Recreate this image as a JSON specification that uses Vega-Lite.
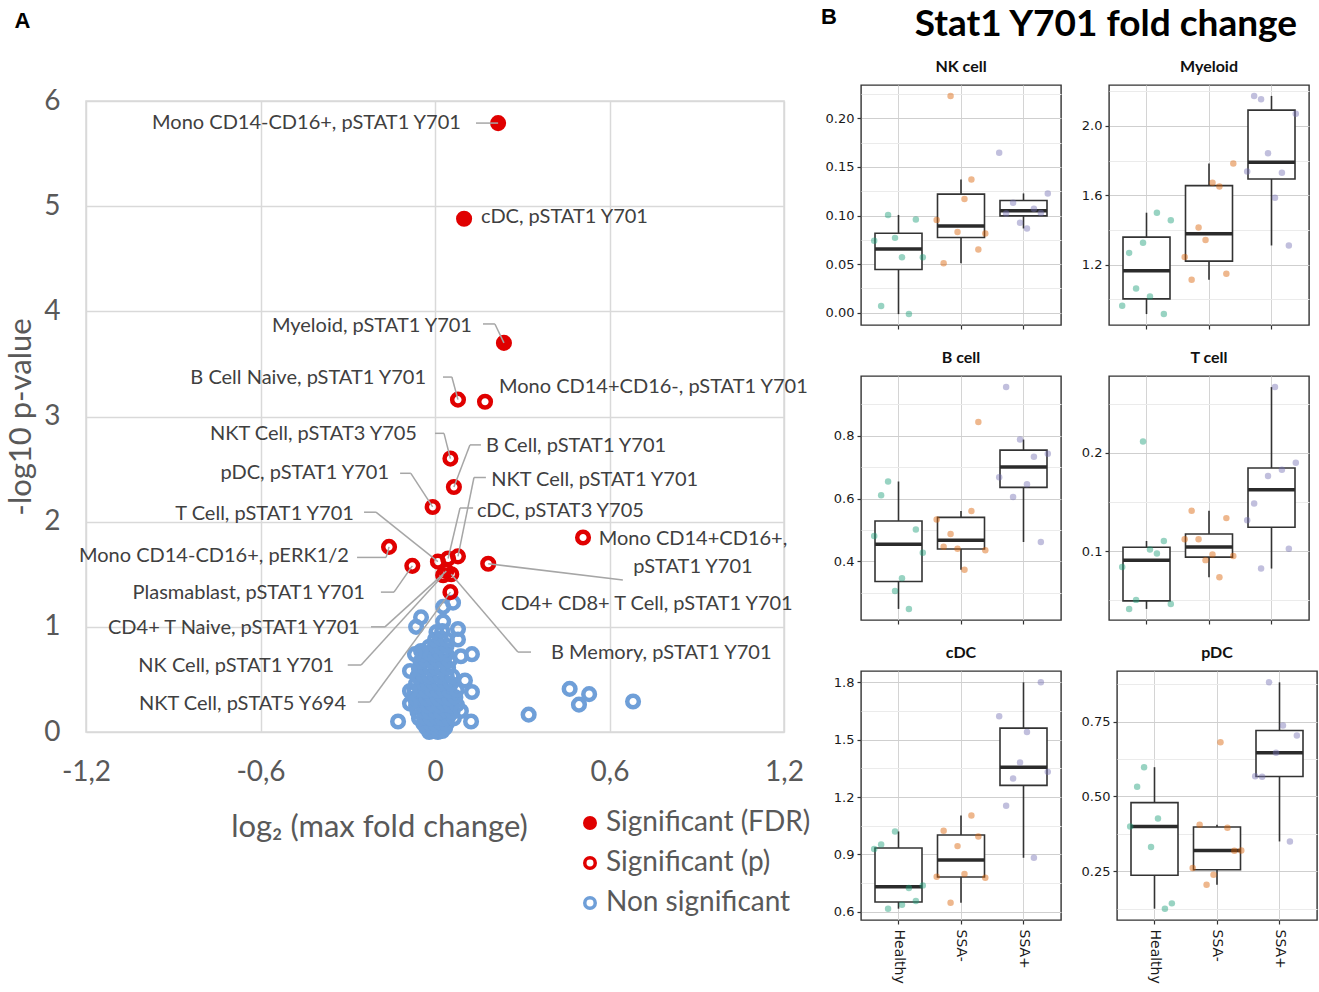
{
"$schema":"https://vega.github.io/schema/vega-lite/v6.json",
"background":"white",
"padding":{"left":5,"top":5,"right":2,"bottom":2},
"datasets":{
"volcano":[
{"x":-0.02,"y":0,"s":"Non significant"},{"x":-0.005,"y":0.01,"s":"Non significant"},{"x":0.01,"y":0,"s":"Non significant"},{"x":0.025,"y":0.01,"s":"Non significant"},
{"x":-0.03,"y":0.04,"s":"Non significant"},{"x":-0.01,"y":0.05,"s":"Non significant"},{"x":0.005,"y":0.04,"s":"Non significant"},{"x":0.02,"y":0.05,"s":"Non significant"},{"x":0.035,"y":0.04,"s":"Non significant"},
{"x":-0.04,"y":0.08,"s":"Non significant"},{"x":-0.02,"y":0.09,"s":"Non significant"},{"x":0,"y":0.08,"s":"Non significant"},{"x":0.02,"y":0.09,"s":"Non significant"},{"x":0.04,"y":0.08,"s":"Non significant"},
{"x":-0.055,"y":0.13,"s":"Non significant"},{"x":-0.035,"y":0.14,"s":"Non significant"},{"x":-0.015,"y":0.13,"s":"Non significant"},{"x":0.005,"y":0.14,"s":"Non significant"},{"x":0.025,"y":0.13,"s":"Non significant"},{"x":0.045,"y":0.14,"s":"Non significant"},{"x":0.065,"y":0.13,"s":"Non significant"},
{"x":-0.06,"y":0.19,"s":"Non significant"},{"x":-0.04,"y":0.2,"s":"Non significant"},{"x":-0.02,"y":0.19,"s":"Non significant"},{"x":0,"y":0.2,"s":"Non significant"},{"x":0.02,"y":0.19,"s":"Non significant"},{"x":0.04,"y":0.2,"s":"Non significant"},{"x":0.06,"y":0.19,"s":"Non significant"},
{"x":-0.065,"y":0.25,"s":"Non significant"},{"x":-0.045,"y":0.26,"s":"Non significant"},{"x":-0.025,"y":0.25,"s":"Non significant"},{"x":-0.005,"y":0.26,"s":"Non significant"},{"x":0.015,"y":0.25,"s":"Non significant"},{"x":0.035,"y":0.26,"s":"Non significant"},{"x":0.055,"y":0.25,"s":"Non significant"},{"x":0.075,"y":0.26,"s":"Non significant"},
{"x":-0.07,"y":0.32,"s":"Non significant"},{"x":-0.05,"y":0.33,"s":"Non significant"},{"x":-0.03,"y":0.32,"s":"Non significant"},{"x":-0.01,"y":0.33,"s":"Non significant"},{"x":0.01,"y":0.32,"s":"Non significant"},{"x":0.03,"y":0.33,"s":"Non significant"},{"x":0.05,"y":0.32,"s":"Non significant"},{"x":0.07,"y":0.33,"s":"Non significant"},
{"x":-0.07,"y":0.39,"s":"Non significant"},{"x":-0.05,"y":0.4,"s":"Non significant"},{"x":-0.03,"y":0.39,"s":"Non significant"},{"x":-0.01,"y":0.4,"s":"Non significant"},{"x":0.01,"y":0.39,"s":"Non significant"},{"x":0.03,"y":0.4,"s":"Non significant"},{"x":0.05,"y":0.39,"s":"Non significant"},{"x":0.075,"y":0.4,"s":"Non significant"},
{"x":-0.065,"y":0.46,"s":"Non significant"},{"x":-0.045,"y":0.47,"s":"Non significant"},{"x":-0.025,"y":0.46,"s":"Non significant"},{"x":-0.005,"y":0.47,"s":"Non significant"},{"x":0.015,"y":0.46,"s":"Non significant"},{"x":0.035,"y":0.47,"s":"Non significant"},{"x":0.055,"y":0.46,"s":"Non significant"},
{"x":-0.06,"y":0.53,"s":"Non significant"},{"x":-0.04,"y":0.54,"s":"Non significant"},{"x":-0.02,"y":0.53,"s":"Non significant"},{"x":0,"y":0.54,"s":"Non significant"},{"x":0.02,"y":0.53,"s":"Non significant"},{"x":0.04,"y":0.54,"s":"Non significant"},{"x":0.06,"y":0.53,"s":"Non significant"},
{"x":-0.055,"y":0.6,"s":"Non significant"},{"x":-0.035,"y":0.61,"s":"Non significant"},{"x":-0.015,"y":0.6,"s":"Non significant"},{"x":0.005,"y":0.61,"s":"Non significant"},{"x":0.025,"y":0.6,"s":"Non significant"},{"x":0.045,"y":0.61,"s":"Non significant"},
{"x":-0.05,"y":0.67,"s":"Non significant"},{"x":-0.03,"y":0.68,"s":"Non significant"},{"x":-0.01,"y":0.67,"s":"Non significant"},{"x":0.01,"y":0.68,"s":"Non significant"},{"x":0.03,"y":0.67,"s":"Non significant"},{"x":0.05,"y":0.68,"s":"Non significant"},
{"x":-0.04,"y":0.74,"s":"Non significant"},{"x":-0.02,"y":0.75,"s":"Non significant"},{"x":0,"y":0.74,"s":"Non significant"},{"x":0.02,"y":0.75,"s":"Non significant"},{"x":0.04,"y":0.74,"s":"Non significant"},
{"x":-0.02,"y":0.81,"s":"Non significant"},{"x":0,"y":0.82,"s":"Non significant"},{"x":0.02,"y":0.81,"s":"Non significant"},{"x":0.04,"y":0.82,"s":"Non significant"},
{"x":0,"y":0.88,"s":"Non significant"},{"x":0.02,"y":0.89,"s":"Non significant"},{"x":0.04,"y":0.88,"s":"Non significant"},
{"x":0.005,"y":0.95,"s":"Non significant"},{"x":0.025,"y":0.96,"s":"Non significant"},
{"x":0.062,"y":1.23,"s":"Non significant"},{"x":0.028,"y":1.19,"s":"Non significant"},{"x":-0.048,"y":1.09,"s":"Non significant"},{"x":-0.065,"y":1.0,"s":"Non significant"},{"x":0.028,"y":1.05,"s":"Non significant"},{"x":0.079,"y":0.98,"s":"Non significant"},{"x":0.079,"y":0.88,"s":"Non significant"},{"x":0.089,"y":0.72,"s":"Non significant"},{"x":0.127,"y":0.74,"s":"Non significant"},{"x":0.103,"y":0.49,"s":"Non significant"},{"x":0.127,"y":0.38,"s":"Non significant"},{"x":0.124,"y":0.1,"s":"Non significant"},{"x":-0.127,"y":0.1,"s":"Non significant"},{"x":-0.086,"y":0.58,"s":"Non significant"},{"x":-0.086,"y":0.39,"s":"Non significant"},{"x":-0.086,"y":0.27,"s":"Non significant"},{"x":-0.048,"y":0.77,"s":"Non significant"},{"x":-0.069,"y":0.74,"s":"Non significant"},{"x":0.089,"y":0.2,"s":"Non significant"},{"x":0.322,"y":0.165,"s":"Non significant"},{"x":0.463,"y":0.41,"s":"Non significant"},{"x":0.53,"y":0.36,"s":"Non significant"},{"x":0.495,"y":0.26,"s":"Non significant"},{"x":0.681,"y":0.29,"s":"Non significant"},
{"x":0.079,"y":3.16,"s":"Significant (p)"},{"x":0.172,"y":3.14,"s":"Significant (p)"},{"x":0.053,"y":2.6,"s":"Significant (p)"},{"x":0.065,"y":2.33,"s":"Significant (p)"},{"x":-0.008,"y":2.14,"s":"Significant (p)"},{"x":0.509,"y":1.85,"s":"Significant (p)"},{"x":-0.158,"y":1.76,"s":"Significant (p)"},{"x":-0.078,"y":1.58,"s":"Significant (p)"},{"x":0.01,"y":1.62,"s":"Significant (p)"},{"x":0.045,"y":1.65,"s":"Significant (p)"},{"x":0.079,"y":1.67,"s":"Significant (p)"},{"x":0.183,"y":1.6,"s":"Significant (p)"},{"x":0.056,"y":1.5,"s":"Significant (p)"},{"x":0.039,"y":1.53,"s":"Significant (p)"},{"x":0.028,"y":1.49,"s":"Significant (p)"},{"x":0.053,"y":1.33,"s":"Significant (p)"},
{"x":0.217,"y":5.79,"s":"Significant (FDR)"},{"x":0.1,"y":4.88,"s":"Significant (FDR)"},{"x":0.237,"y":3.7,"s":"Significant (FDR)"}
],
"labels":[
{"t":"Mono CD14-CD16+, pSTAT1 Y701","x":0.089,"y":5.79,"side":"end"},
{"t":"Myeloid, pSTAT1 Y701","x":0.127,"y":3.86,"side":"end"},
{"t":"B Cell Naive, pSTAT1 Y701","x":-0.031,"y":3.365,"side":"end"},
{"t":"NKT Cell, pSTAT3 Y705","x":-0.062,"y":2.83,"side":"end"},
{"t":"pDC, pSTAT1 Y701","x":-0.158,"y":2.46,"side":"end"},
{"t":"T Cell, pSTAT1 Y701","x":-0.279,"y":2.07,"side":"end"},
{"t":"Mono CD14-CD16+, pERK1/2","x":-0.296,"y":1.673,"side":"end"},
{"t":"Plasmablast, pSTAT1 Y701","x":-0.241,"y":1.32,"side":"end"},
{"t":"CD4+ T Naive, pSTAT1 Y701","x":-0.258,"y":0.99,"side":"end"},
{"t":"NK Cell, pSTAT1 Y701","x":-0.347,"y":0.627,"side":"end"},
{"t":"NKT Cell, pSTAT5 Y694","x":-0.306,"y":0.266,"side":"end"},
{"t":"cDC, pSTAT1 Y701","x":0.158,"y":4.9,"side":"start"},
{"t":"Mono CD14+CD16-, pSTAT1 Y701","x":0.22,"y":3.28,"side":"start"},
{"t":"B Cell, pSTAT1 Y701","x":0.175,"y":2.72,"side":"start"},
{"t":"NKT Cell, pSTAT1 Y701","x":0.193,"y":2.4,"side":"start"},
{"t":"cDC, pSTAT3 Y705","x":0.144,"y":2.1,"side":"start"},
{"t":"CD4+ CD8+ T Cell, pSTAT1 Y701","x":0.227,"y":1.217,"side":"start"},
{"t":"B Memory, pSTAT1 Y701","x":0.399,"y":0.75,"side":"start"},
{"t":"Mono CD14+CD16+,","x":0.887,"y":1.835,"side":"middle"},
{"t":"pSTAT1 Y701","x":0.887,"y":1.568,"side":"middle"}
],
"tags":[
{"t":"B","x":1.327,"y":6.8}
],
"leaders":[
{"x":0.141,"y":5.79,"x2":0.217,"y2":5.79},
{"x":0.165,"y":3.88,"x2":0.206,"y2":3.88},{"x":0.206,"y":3.88,"x2":0.237,"y2":3.7},
{"x":0.0275,"y":3.375,"x2":0.058,"y2":3.375},{"x":0.058,"y":3.375,"x2":0.079,"y2":3.16},
{"x":0.0,"y":2.84,"x2":0.031,"y2":2.84},{"x":0.031,"y":2.84,"x2":0.053,"y2":2.6},
{"x":0.158,"y":2.73,"x2":0.12,"y2":2.73},{"x":0.12,"y":2.73,"x2":0.065,"y2":2.33},
{"x":-0.12,"y":2.46,"x2":-0.083,"y2":2.46},{"x":-0.083,"y":2.46,"x2":-0.008,"y2":2.14},
{"x":0.175,"y":2.42,"x2":0.134,"y2":2.42},{"x":0.134,"y":2.42,"x2":0.079,"y2":1.67},
{"x":-0.244,"y":2.09,"x2":-0.203,"y2":2.09},{"x":-0.203,"y":2.09,"x2":0.01,"y2":1.62},
{"x":0.131,"y":2.13,"x2":0.086,"y2":2.13},{"x":0.086,"y":2.13,"x2":0.045,"y2":1.65},
{"x":-0.268,"y":1.66,"x2":-0.168,"y2":1.66},{"x":-0.168,"y":1.66,"x2":-0.158,"y2":1.76},
{"x":-0.186,"y":1.33,"x2":-0.141,"y2":1.33},{"x":-0.141,"y":1.33,"x2":-0.078,"y2":1.58},
{"x":0.183,"y":1.6,"x2":0.646,"y2":1.445},
{"x":-0.22,"y":1.0,"x2":-0.172,"y2":1.0},{"x":-0.172,"y":1.0,"x2":0.039,"y2":1.53},
{"x":0.33,"y":0.76,"x2":0.285,"y2":0.76},{"x":0.285,"y":0.76,"x2":0.056,"y2":1.5},
{"x":-0.3,"y":0.637,"x2":-0.254,"y2":0.637},{"x":-0.254,"y":0.637,"x2":0.028,"y2":1.49},
{"x":-0.265,"y":0.285,"x2":-0.224,"y2":0.285},{"x":-0.224,"y":0.285,"x2":0.053,"y2":1.33}
],
"box":[
{"p":"NK cell","g":"Healthy","v":0.1006,"r":3},{"p":"NK cell","g":"Healthy","v":0.096,"r":7},{"p":"NK cell","g":"Healthy","v":0.077,"r":4},{"p":"NK cell","g":"Healthy","v":0.074,"r":1},{"p":"NK cell","g":"Healthy","v":0.057,"r":5},{"p":"NK cell","g":"Healthy","v":0.057,"r":8},{"p":"NK cell","g":"Healthy","v":0.007,"r":2},{"p":"NK cell","g":"Healthy","v":-0.0014,"r":6},
{"p":"NK cell","g":"SSA-","v":0.223,"r":3},{"p":"NK cell","g":"SSA-","v":0.137,"r":6},{"p":"NK cell","g":"SSA-","v":0.117,"r":5},{"p":"NK cell","g":"SSA-","v":0.0955,"r":1},{"p":"NK cell","g":"SSA-","v":0.083,"r":4},{"p":"NK cell","g":"SSA-","v":0.0816,"r":8},{"p":"NK cell","g":"SSA-","v":0.065,"r":7},{"p":"NK cell","g":"SSA-","v":0.051,"r":2},
{"p":"NK cell","g":"SSA+","v":0.1646,"r":1},{"p":"NK cell","g":"SSA+","v":0.1227,"r":8},{"p":"NK cell","g":"SSA+","v":0.113,"r":3},{"p":"NK cell","g":"SSA+","v":0.107,"r":6},{"p":"NK cell","g":"SSA+","v":0.1027,"r":7},{"p":"NK cell","g":"SSA+","v":0.102,"r":2},{"p":"NK cell","g":"SSA+","v":0.0925,"r":4},{"p":"NK cell","g":"SSA+","v":0.0867,"r":5},
{"p":"Myeloid","g":"Healthy","v":1.499,"r":6},{"p":"Myeloid","g":"Healthy","v":1.455,"r":8},{"p":"Myeloid","g":"Healthy","v":1.326,"r":4},{"p":"Myeloid","g":"Healthy","v":1.267,"r":2},{"p":"Myeloid","g":"Healthy","v":1.061,"r":3},{"p":"Myeloid","g":"Healthy","v":1.015,"r":5},{"p":"Myeloid","g":"Healthy","v":0.962,"r":1},{"p":"Myeloid","g":"Healthy","v":0.914,"r":7},
{"p":"Myeloid","g":"SSA-","v":1.783,"r":8},{"p":"Myeloid","g":"SSA-","v":1.672,"r":5},{"p":"Myeloid","g":"SSA-","v":1.65,"r":6},{"p":"Myeloid","g":"SSA-","v":1.413,"r":3},{"p":"Myeloid","g":"SSA-","v":1.341,"r":4},{"p":"Myeloid","g":"SSA-","v":1.244,"r":1},{"p":"Myeloid","g":"SSA-","v":1.147,"r":7},{"p":"Myeloid","g":"SSA-","v":1.112,"r":2},
{"p":"Myeloid","g":"SSA+","v":2.173,"r":2},{"p":"Myeloid","g":"SSA+","v":2.154,"r":3},{"p":"Myeloid","g":"SSA+","v":2.07,"r":8},{"p":"Myeloid","g":"SSA+","v":1.842,"r":4},{"p":"Myeloid","g":"SSA+","v":1.737,"r":1},{"p":"Myeloid","g":"SSA+","v":1.73,"r":6},{"p":"Myeloid","g":"SSA+","v":1.585,"r":5},{"p":"Myeloid","g":"SSA+","v":1.31,"r":7},
{"p":"B cell","g":"Healthy","v":0.6545,"r":3},{"p":"B cell","g":"Healthy","v":0.611,"r":2},{"p":"B cell","g":"Healthy","v":0.5016,"r":7},{"p":"B cell","g":"Healthy","v":0.481,"r":1},{"p":"B cell","g":"Healthy","v":0.428,"r":8},{"p":"B cell","g":"Healthy","v":0.3465,"r":5},{"p":"B cell","g":"Healthy","v":0.306,"r":4},{"p":"B cell","g":"Healthy","v":0.249,"r":6},
{"p":"B cell","g":"SSA-","v":0.844,"r":7},{"p":"B cell","g":"SSA-","v":0.5604,"r":6},{"p":"B cell","g":"SSA-","v":0.5337,"r":1},{"p":"B cell","g":"SSA-","v":0.4877,"r":3},{"p":"B cell","g":"SSA-","v":0.447,"r":2},{"p":"B cell","g":"SSA-","v":0.4406,"r":4},{"p":"B cell","g":"SSA-","v":0.436,"r":8},{"p":"B cell","g":"SSA-","v":0.374,"r":5},
{"p":"B cell","g":"SSA+","v":0.955,"r":2},{"p":"B cell","g":"SSA+","v":0.788,"r":4},{"p":"B cell","g":"SSA+","v":0.743,"r":8},{"p":"B cell","g":"SSA+","v":0.733,"r":6},{"p":"B cell","g":"SSA+","v":0.668,"r":1},{"p":"B cell","g":"SSA+","v":0.646,"r":5},{"p":"B cell","g":"SSA+","v":0.605,"r":3},{"p":"B cell","g":"SSA+","v":0.462,"r":7},
{"p":"T cell","g":"Healthy","v":0.2116,"r":4},{"p":"T cell","g":"Healthy","v":0.1103,"r":7},{"p":"T cell","g":"Healthy","v":0.1017,"r":5},{"p":"T cell","g":"Healthy","v":0.0976,"r":6},{"p":"T cell","g":"Healthy","v":0.0839,"r":1},{"p":"T cell","g":"Healthy","v":0.0503,"r":3},{"p":"T cell","g":"Healthy","v":0.0462,"r":8},{"p":"T cell","g":"Healthy","v":0.0411,"r":2},
{"p":"T cell","g":"SSA-","v":0.1411,"r":2},{"p":"T cell","g":"SSA-","v":0.1336,"r":7},{"p":"T cell","g":"SSA-","v":0.112,"r":1},{"p":"T cell","g":"SSA-","v":0.112,"r":3},{"p":"T cell","g":"SSA-","v":0.0966,"r":5},{"p":"T cell","g":"SSA-","v":0.0949,"r":8},{"p":"T cell","g":"SSA-","v":0.0908,"r":4},{"p":"T cell","g":"SSA-","v":0.0733,"r":6},
{"p":"T cell","g":"SSA+","v":0.2671,"r":5},{"p":"T cell","g":"SSA+","v":0.19,"r":8},{"p":"T cell","g":"SSA+","v":0.1829,"r":6},{"p":"T cell","g":"SSA+","v":0.1764,"r":4},{"p":"T cell","g":"SSA+","v":0.1486,"r":2},{"p":"T cell","g":"SSA+","v":0.1315,"r":1},{"p":"T cell","g":"SSA+","v":0.1024,"r":7},{"p":"T cell","g":"SSA+","v":0.0822,"r":3},
{"p":"cDC","g":"Healthy","v":1.0197,"r":4},{"p":"cDC","g":"Healthy","v":0.952,"r":2},{"p":"cDC","g":"Healthy","v":0.9274,"r":1},{"p":"cDC","g":"Healthy","v":0.7376,"r":8},{"p":"cDC","g":"Healthy","v":0.7237,"r":6},{"p":"cDC","g":"Healthy","v":0.6557,"r":7},{"p":"cDC","g":"Healthy","v":0.6366,"r":5},{"p":"cDC","g":"Healthy","v":0.6157,"r":3},
{"p":"cDC","g":"SSA-","v":1.1033,"r":6},{"p":"cDC","g":"SSA-","v":1.0232,"r":2},{"p":"cDC","g":"SSA-","v":0.9936,"r":7},{"p":"cDC","g":"SSA-","v":0.943,"r":4},{"p":"cDC","g":"SSA-","v":0.7968,"r":5},{"p":"cDC","g":"SSA-","v":0.7829,"r":1},{"p":"cDC","g":"SSA-","v":0.7776,"r":8},{"p":"cDC","g":"SSA-","v":0.647,"r":3},
{"p":"cDC","g":"SSA+","v":1.8,"r":7},{"p":"cDC","g":"SSA+","v":1.622,"r":1},{"p":"cDC","g":"SSA+","v":1.54,"r":5},{"p":"cDC","g":"SSA+","v":1.38,"r":4},{"p":"cDC","g":"SSA+","v":1.3315,"r":8},{"p":"cDC","g":"SSA+","v":1.2966,"r":3},{"p":"cDC","g":"SSA+","v":1.1538,"r":2},{"p":"cDC","g":"SSA+","v":0.882,"r":6},
{"p":"pDC","g":"Healthy","v":0.5978,"r":3},{"p":"pDC","g":"Healthy","v":0.5322,"r":2},{"p":"pDC","g":"Healthy","v":0.4267,"r":5},{"p":"pDC","g":"Healthy","v":0.4,"r":1},{"p":"pDC","g":"Healthy","v":0.3311,"r":4},{"p":"pDC","g":"Healthy","v":0.1433,"r":7},{"p":"pDC","g":"Healthy","v":0.1256,"r":6},
{"p":"pDC","g":"SSA-","v":0.681,"r":5},{"p":"pDC","g":"SSA-","v":0.4056,"r":2},{"p":"pDC","g":"SSA-","v":0.3956,"r":6},{"p":"pDC","g":"SSA-","v":0.32,"r":8},{"p":"pDC","g":"SSA-","v":0.319,"r":7},{"p":"pDC","g":"SSA-","v":0.261,"r":1},{"p":"pDC","g":"SSA-","v":0.2389,"r":4},{"p":"pDC","g":"SSA-","v":0.2056,"r":3},
{"p":"pDC","g":"SSA+","v":0.881,"r":3},{"p":"pDC","g":"SSA+","v":0.7367,"r":5},{"p":"pDC","g":"SSA+","v":0.7033,"r":7},{"p":"pDC","g":"SSA+","v":0.6456,"r":4},{"p":"pDC","g":"SSA+","v":0.5678,"r":1},{"p":"pDC","g":"SSA+","v":0.5656,"r":2},{"p":"pDC","g":"SSA+","v":0.35,"r":6}
]
},
"spacing":-14,
"hconcat":[
{"spacing":-41,"vconcat":[
{"width":1,"height":1,"view":{"stroke":null},"data":{"values":[{}]},"mark":{"type":"rule","opacity":0},"encoding":{},
"title":{"text":"A","anchor":"start","font":"Liberation Sans","fontSize":22,"fontWeight":"bold","color":"#000000","offset":12,"dx":-71}},
{
"width":698,"height":631,
"view":{"stroke":"#d9d9d9","strokeWidth":1.5},
"layer":[
{"data":{"name":"volcano"},
"mark":{"type":"point","filled":false,"strokeWidth":4.5,"size":135,"opacity":1},
"encoding":{
"x":{"field":"x","type":"quantitative","scale":{"domain":[-1.2,1.2],"nice":false,"zero":false},
"axis":{"values":[-1.2,-0.6,0,0.6,1.2],"labelExpr":"datum.value==0?'0':replace(replace(format(datum.value,'.1f'),'.',','),'\u2212','-')","grid":true,"gridColor":"#d9d9d9","gridWidth":1.5,"domain":false,"ticks":false,"labelFont":"Lato","labelFontSize":28,"labelColor":"#595959","labelPadding":26,"labelFlush":false,"title":"log₂ (max fold change)","titleFont":"Lato","titleFontSize":31,"titleFontWeight":"normal","titleColor":"#595959","titleX":293,"titleY":104,"titleAlign":"center","titleBaseline":"alphabetic"}},
"y":{"field":"y","type":"quantitative","scale":{"domain":[0,6],"nice":false,"zero":false},
"axis":{"values":[0,1,2,3,4,5,6],"format":"d","grid":true,"gridColor":"#d9d9d9","gridWidth":1.5,"domain":false,"ticks":false,"labelFont":"Lato","labelFontSize":28,"labelColor":"#595959","labelPadding":26,"title":"-log10 p-value","titleFont":"Lato","titleFontSize":31,"titleFontWeight":"normal","titleColor":"#595959","titlePadding":6}},
"stroke":{"field":"s","type":"nominal","scale":{"domain":["Significant (FDR)","Significant (p)","Non significant"],"range":["#E00000","#E00000","#6F9FD8"]},
"legend":{"orient":"none","legendX":490,"legendY":764,"title":null,"labelFont":"Lato","labelFontSize":28,"labelColor":"#595959","labelLimit":400,"symbolSize":110,"symbolStrokeWidth":3.5,"rowPadding":12,"labelOffset":2,"symbolType":"circle"}},
"fill":{"field":"s","type":"nominal","scale":{"domain":["Significant (FDR)","Significant (p)","Non significant"],"range":["#E00000","transparent","transparent"]},
"legend":{"orient":"none","legendX":490,"legendY":764,"title":null,"labelFont":"Lato","labelFontSize":28,"labelColor":"#595959","labelLimit":400,"symbolSize":110,"symbolStrokeWidth":3.5,"rowPadding":12,"labelOffset":2,"symbolType":"circle"}}
}},
{"data":{"name":"leaders"},
"mark":{"type":"rule","color":"#a6a6a6","strokeWidth":1.5},
"encoding":{"x":{"field":"x","type":"quantitative"},"y":{"field":"y","type":"quantitative"},"x2":{"field":"x2"},"y2":{"field":"y2"}}},
{"data":{"name":"labels"},"transform":[{"filter":"datum.side==='end'"}],
"mark":{"type":"text","align":"right","baseline":"middle","font":"Lato","fontSize":20,"color":"#404040"},
"encoding":{"x":{"field":"x","type":"quantitative"},"y":{"field":"y","type":"quantitative"},"text":{"field":"t"}}},
{"data":{"name":"labels"},"transform":[{"filter":"datum.side==='start'"}],
"mark":{"type":"text","align":"left","baseline":"middle","font":"Lato","fontSize":20,"color":"#404040"},
"encoding":{"x":{"field":"x","type":"quantitative"},"y":{"field":"y","type":"quantitative"},"text":{"field":"t"}}},
{"data":{"name":"labels"},"transform":[{"filter":"datum.side==='middle'"}],
"mark":{"type":"text","align":"center","baseline":"middle","font":"Lato","fontSize":20,"color":"#404040"},
"encoding":{"x":{"field":"x","type":"quantitative"},"y":{"field":"y","type":"quantitative"},"text":{"field":"t"}}},
{"data":{"name":"tags"},
"mark":{"type":"text","align":"left","baseline":"middle","font":"Liberation Sans","fontSize":22,"fontWeight":"bold","color":"#000000"},
"encoding":{"x":{"field":"x","type":"quantitative"},"y":{"field":"y","type":"quantitative"},"text":{"field":"t"}}}
]
}
]},
{"spacing":12,"vconcat":[
{"width":446,"height":1,"view":{"stroke":null},"data":{"values":[{}]},"mark":{"type":"rule","opacity":0},"encoding":{},
"title":{"text":"Stat1 Y701 fold change","anchor":"end","font":"Lato","fontSize":37,"fontWeight":"bold","color":"#000000","offset":1,"dx":-10}},
{
"spacing":18,
"vconcat":[
{"spacing":18,"hconcat":[
{"title":"NK cell","width":200,"height":240,"data":{"name":"box"},"transform":[{"filter":"datum.p==='NK cell'"}],
"layer":[
{"mark":{"type":"boxplot","extent":1.5,"outliers":false,"size":47,"ticks":false,"box":{"fill":"white","stroke":"#333333","strokeWidth":1.6},"median":{"color":"#2b2b2b","thickness":3.5,"opacity":1},"rule":{"color":"#333333","strokeWidth":1.6}},
"encoding":{"x":{"field":"g","type":"nominal","sort":["Healthy","SSA-","SSA+"],"scale":{"paddingInner":0,"paddingOuter":0.1},"axis":{"title":null,"labels":false,"grid":true,"bandPosition":0.5}},
"y":{"field":"v","type":"quantitative","scale":{"domain":[-0.0126,0.2342],"nice":false,"zero":false},"axis":{"title":null,"tickCount":40,"values":[0,0.025,0.05,0.075,0.1,0.125,0.15,0.175,0.2,0.225],"labelExpr":"indexof([0,0.05,0.1,0.15,0.2],datum.value)>=0?format(datum.value,'.2f'):''","tickOpacity":{"condition":{"test":"indexof([0,0.05,0.1,0.15,0.2],datum.value)>=0","value":1},"value":0},"gridColor":{"condition":{"test":"indexof([0,0.05,0.1,0.15,0.2],datum.value)>=0","value":"#cfcfcf"},"value":"#ebebeb"}}}}},
{"mark":{"type":"circle","size":42,"opacity":0.45},
"encoding":{"x":{"field":"g","type":"nominal","sort":["Healthy","SSA-","SSA+"]},"xOffset":{"field":"r","type":"nominal","scale":{"paddingInner":0,"paddingOuter":6.9}},"y":{"field":"v","type":"quantitative"},"color":{"field":"g","type":"nominal","scale":{"domain":["Healthy","SSA-","SSA+"],"range":["#1B9E77","#D95F02","#7570B3"]},"legend":null}}}
]},
{"title":"Myeloid","width":200,"height":240,"data":{"name":"box"},"transform":[{"filter":"datum.p==='Myeloid'"}],
"layer":[
{"mark":{"type":"boxplot","extent":1.5,"outliers":false,"size":47,"ticks":false,"box":{"fill":"white","stroke":"#333333","strokeWidth":1.6},"median":{"color":"#2b2b2b","thickness":3.5,"opacity":1},"rule":{"color":"#333333","strokeWidth":1.6}},
"encoding":{"x":{"field":"g","type":"nominal","sort":["Healthy","SSA-","SSA+"],"scale":{"paddingInner":0,"paddingOuter":0.1},"axis":{"title":null,"labels":false,"grid":true,"bandPosition":0.5}},
"y":{"field":"v","type":"quantitative","scale":{"domain":[0.851,2.236],"nice":false,"zero":false},"axis":{"title":null,"tickCount":40,"values":[1,1.2,1.4,1.6,1.8,2,2.2],"labelExpr":"indexof([1.2,1.6,2],datum.value)>=0?format(datum.value,'.1f'):''","tickOpacity":{"condition":{"test":"indexof([1.2,1.6,2],datum.value)>=0","value":1},"value":0},"gridColor":{"condition":{"test":"indexof([1.2,1.6,2],datum.value)>=0","value":"#cfcfcf"},"value":"#ebebeb"}}}}},
{"mark":{"type":"circle","size":42,"opacity":0.45},
"encoding":{"x":{"field":"g","type":"nominal","sort":["Healthy","SSA-","SSA+"]},"xOffset":{"field":"r","type":"nominal","scale":{"paddingInner":0,"paddingOuter":6.9}},"y":{"field":"v","type":"quantitative"},"color":{"field":"g","type":"nominal","scale":{"domain":["Healthy","SSA-","SSA+"],"range":["#1B9E77","#D95F02","#7570B3"]},"legend":null}}}
]}
]},
{"spacing":18,"hconcat":[
{"title":"B cell","width":200,"height":244,"data":{"name":"box"},"transform":[{"filter":"datum.p==='B cell'"}],
"layer":[
{"mark":{"type":"boxplot","extent":1.5,"outliers":false,"size":47,"ticks":false,"box":{"fill":"white","stroke":"#333333","strokeWidth":1.6},"median":{"color":"#2b2b2b","thickness":3.5,"opacity":1},"rule":{"color":"#333333","strokeWidth":1.6}},
"encoding":{"x":{"field":"g","type":"nominal","sort":["Healthy","SSA-","SSA+"],"scale":{"paddingInner":0,"paddingOuter":0.1},"axis":{"title":null,"labels":false,"grid":true,"bandPosition":0.5}},
"y":{"field":"v","type":"quantitative","scale":{"domain":[0.2137,0.9903],"nice":false,"zero":false},"axis":{"title":null,"tickCount":40,"values":[0.3,0.4,0.5,0.6,0.7,0.8,0.9],"labelExpr":"indexof([0.4,0.6,0.8],datum.value)>=0?format(datum.value,'.1f'):''","tickOpacity":{"condition":{"test":"indexof([0.4,0.6,0.8],datum.value)>=0","value":1},"value":0},"gridColor":{"condition":{"test":"indexof([0.4,0.6,0.8],datum.value)>=0","value":"#cfcfcf"},"value":"#ebebeb"}}}}},
{"mark":{"type":"circle","size":42,"opacity":0.45},
"encoding":{"x":{"field":"g","type":"nominal","sort":["Healthy","SSA-","SSA+"]},"xOffset":{"field":"r","type":"nominal","scale":{"paddingInner":0,"paddingOuter":6.9}},"y":{"field":"v","type":"quantitative"},"color":{"field":"g","type":"nominal","scale":{"domain":["Healthy","SSA-","SSA+"],"range":["#1B9E77","#D95F02","#7570B3"]},"legend":null}}}
]},
{"title":"T cell","width":200,"height":244,"data":{"name":"box"},"transform":[{"filter":"datum.p==='T cell'"}],
"layer":[
{"mark":{"type":"boxplot","extent":1.5,"outliers":false,"size":47,"ticks":false,"box":{"fill":"white","stroke":"#333333","strokeWidth":1.6},"median":{"color":"#2b2b2b","thickness":3.5,"opacity":1},"rule":{"color":"#333333","strokeWidth":1.6}},
"encoding":{"x":{"field":"g","type":"nominal","sort":["Healthy","SSA-","SSA+"],"scale":{"paddingInner":0,"paddingOuter":0.1},"axis":{"title":null,"labels":false,"grid":true,"bandPosition":0.5}},
"y":{"field":"v","type":"quantitative","scale":{"domain":[0.0298,0.2784],"nice":false,"zero":false},"axis":{"title":null,"tickCount":40,"values":[0.05,0.1,0.15,0.2,0.25],"labelExpr":"indexof([0.1,0.2],datum.value)>=0?format(datum.value,'.1f'):''","tickOpacity":{"condition":{"test":"indexof([0.1,0.2],datum.value)>=0","value":1},"value":0},"gridColor":{"condition":{"test":"indexof([0.1,0.2],datum.value)>=0","value":"#cfcfcf"},"value":"#ebebeb"}}}}},
{"mark":{"type":"circle","size":42,"opacity":0.45},
"encoding":{"x":{"field":"g","type":"nominal","sort":["Healthy","SSA-","SSA+"]},"xOffset":{"field":"r","type":"nominal","scale":{"paddingInner":0,"paddingOuter":6.9}},"y":{"field":"v","type":"quantitative"},"color":{"field":"g","type":"nominal","scale":{"domain":["Healthy","SSA-","SSA+"],"range":["#1B9E77","#D95F02","#7570B3"]},"legend":null}}}
]}
]},
{"spacing":18,"hconcat":[
{"title":"cDC","width":200,"height":249,"data":{"name":"box"},"transform":[{"filter":"datum.p==='cDC'"}],
"layer":[
{"mark":{"type":"boxplot","extent":1.5,"outliers":false,"size":47,"ticks":false,"box":{"fill":"white","stroke":"#333333","strokeWidth":1.6},"median":{"color":"#2b2b2b","thickness":3.5,"opacity":1},"rule":{"color":"#333333","strokeWidth":1.6}},
"encoding":{"x":{"field":"g","type":"nominal","sort":["Healthy","SSA-","SSA+"],"scale":{"paddingInner":0,"paddingOuter":0.1},"axis":{"title":null,"labelAngle":90,"labelFontSize":14,"labelPadding":5,"grid":true,"bandPosition":0.5}},
"y":{"field":"v","type":"quantitative","scale":{"domain":[0.5565,1.8592],"nice":false,"zero":false},"axis":{"title":null,"tickCount":40,"values":[0.6,0.75,0.9,1.05,1.2,1.35,1.5,1.65,1.8],"labelExpr":"indexof([0.6,0.9,1.2,1.5,1.8],datum.value)>=0?format(datum.value,'.1f'):''","tickOpacity":{"condition":{"test":"indexof([0.6,0.9,1.2,1.5,1.8],datum.value)>=0","value":1},"value":0},"gridColor":{"condition":{"test":"indexof([0.6,0.9,1.2,1.5,1.8],datum.value)>=0","value":"#cfcfcf"},"value":"#ebebeb"}}}}},
{"mark":{"type":"circle","size":42,"opacity":0.45},
"encoding":{"x":{"field":"g","type":"nominal","sort":["Healthy","SSA-","SSA+"]},"xOffset":{"field":"r","type":"nominal","scale":{"paddingInner":0,"paddingOuter":6.9}},"y":{"field":"v","type":"quantitative"},"color":{"field":"g","type":"nominal","scale":{"domain":["Healthy","SSA-","SSA+"],"range":["#1B9E77","#D95F02","#7570B3"]},"legend":null}}}
]},
{"title":"pDC","width":200,"height":249,"data":{"name":"box"},"transform":[{"filter":"datum.p==='pDC'"}],
"layer":[
{"mark":{"type":"boxplot","extent":1.5,"outliers":false,"size":47,"ticks":false,"box":{"fill":"white","stroke":"#333333","strokeWidth":1.6},"median":{"color":"#2b2b2b","thickness":3.5,"opacity":1},"rule":{"color":"#333333","strokeWidth":1.6}},
"encoding":{"x":{"field":"g","type":"nominal","sort":["Healthy","SSA-","SSA+"],"scale":{"paddingInner":0,"paddingOuter":0.1},"axis":{"title":null,"labelAngle":90,"labelFontSize":14,"labelPadding":5,"grid":true,"bandPosition":0.5}},
"y":{"field":"v","type":"quantitative","scale":{"domain":[0.0878,0.9188],"nice":false,"zero":false},"axis":{"title":null,"tickCount":40,"values":[0.125,0.25,0.375,0.5,0.625,0.75,0.875],"labelExpr":"indexof([0.25,0.5,0.75],datum.value)>=0?format(datum.value,'.2f'):''","tickOpacity":{"condition":{"test":"indexof([0.25,0.5,0.75],datum.value)>=0","value":1},"value":0},"gridColor":{"condition":{"test":"indexof([0.25,0.5,0.75],datum.value)>=0","value":"#cfcfcf"},"value":"#ebebeb"}}}}},
{"mark":{"type":"circle","size":42,"opacity":0.45},
"encoding":{"x":{"field":"g","type":"nominal","sort":["Healthy","SSA-","SSA+"]},"xOffset":{"field":"r","type":"nominal","scale":{"paddingInner":0,"paddingOuter":6.9}},"y":{"field":"v","type":"quantitative"},"color":{"field":"g","type":"nominal","scale":{"domain":["Healthy","SSA-","SSA+"],"range":["#1B9E77","#D95F02","#7570B3"]},"legend":null}}}
]}
]}
]
}
]}
],
"config":{
"font":"DejaVu Sans",
"view":{"stroke":"#333333","strokeWidth":1.4},
"axis":{"labelFont":"DejaVu Sans","labelFontSize":13,"labelColor":"#1a1a1a","domain":false,"tickColor":"#333333","tickSize":4,"tickWidth":1.2,"gridColor":"#d4d4d4","gridWidth":1,"labelPadding":3},
"title":{"font":"Lato","fontSize":16,"fontWeight":"bold","color":"#111111","offset":10}
}
}
